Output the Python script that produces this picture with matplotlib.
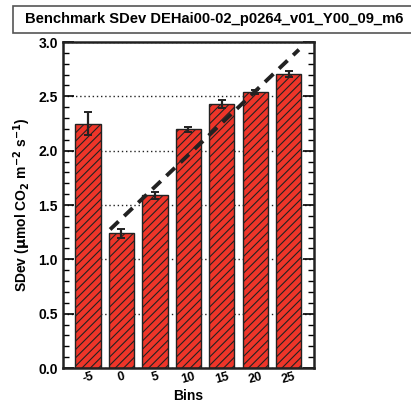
import matplotlib.pyplot as plt
from matplotlib.patches import Rectangle
from matplotlib.ticker import MultipleLocator
import numpy as np

plt.rcParams['font.family'] = ['Liberation Sans', 'DejaVu Sans']
plt.rcParams['font.weight'] = 'bold'
plt.rcParams['hatch.linewidth'] = 0.8

# benchmark bins and standard deviation per bin
bins = ['-5', '0', '5', '10', '15', '20', '25']
sdev = [2.25, 1.24, 1.59, 2.195, 2.43, 2.54, 2.705]
sdev_err = [0.11, 0.04, 0.03, 0.02, 0.04, 0.02, 0.03]

# fitted trend line (bin index, value)
fit_x = [0.66, 6.3]
fit_y = [1.275, 2.93]

fig = plt.figure(figsize=(4.11, 4.08), dpi=100)
ax = fig.add_axes([0.153, 0.098, 0.611, 0.799])

x = np.arange(len(bins))
ax.bar(x, sdev, width=0.75, color='#ee3529', edgecolor='#222222',
       linewidth=1.0, hatch='////', zorder=2)
ax.errorbar(x, sdev, yerr=sdev_err, fmt='none', ecolor='#222222',
            elinewidth=1.6, capsize=3, capthick=1.4, zorder=3)
ax.plot(fit_x, fit_y, color='#222222', linestyle=(0, (3, 2)),
        linewidth=2.8, zorder=4)

ax.set_xlim(-0.75, 6.75)
ax.set_ylim(0, 3.0)
ax.set_xticks(x)
ax.set_xticklabels(bins, rotation=15, fontsize=9)
ax.tick_params(axis='x', length=0, pad=2)
ax.yaxis.set_major_locator(MultipleLocator(0.5))
ax.yaxis.set_minor_locator(MultipleLocator(0.1))
ax.yaxis.set_major_formatter(plt.FormatStrFormatter('%.1f'))
ax.tick_params(axis='y', which='both', direction='in', left=True, right=True,
               labelsize=10)
ax.tick_params(axis='y', which='major', length=8, width=1.2)
ax.tick_params(axis='y', which='minor', length=4, width=1.0)
ax.grid(axis='y', which='major', linestyle=(0, (1, 2)), color='#222222',
        linewidth=1.0, zorder=0)
for s in ax.spines.values():
    s.set_linewidth(1.8)
    s.set_color('#222222')

ax.set_xlabel('Bins', fontsize=10, fontweight='bold', labelpad=2)
ax.set_ylabel(r'SDev ($\mathbf{\mu}$mol CO$_2$ m$^{-2}$ s$^{-1}$)',
              fontsize=10, fontweight='bold', labelpad=4)

# title frame runs past the right edge of the figure
fig.patches.append(Rectangle((13 / 411, 1 - 33 / 408), 0.99, 27 / 408,
                             transform=fig.transFigure, facecolor='white',
                             edgecolor='#555555', linewidth=1.2))
fig.text(214 / 411, 1 - 19.5 / 408,
         'Benchmark SDev DEHai00-02_p0264_v01_Y00_09_m6',
         ha='center', va='center', fontsize=10.6, fontweight='bold')

fig.savefig('out.png', dpi=100)
